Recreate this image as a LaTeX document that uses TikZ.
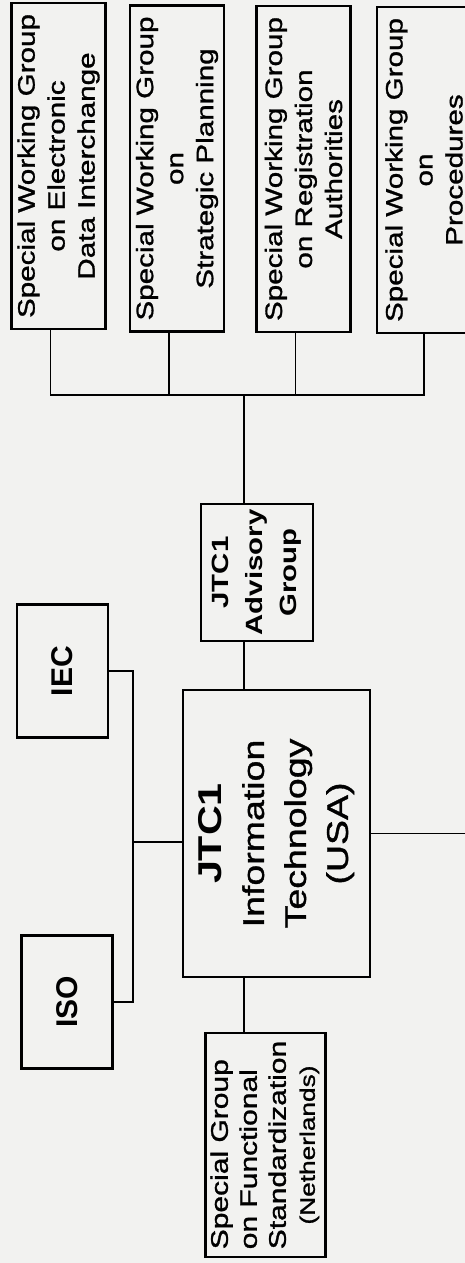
\documentclass[tikz,border=0pt]{standalone}
\usepackage{fontspec}
\setmainfont{Liberation Sans}
\newfontfamily\widefont[FakeStretch=1.25, FakeBold=1.2]{Liberation Sans}
\newfontfamily\wideboldfont[FakeStretch=1.25]{Liberation Sans Bold}
\usetikzlibrary{calc}
\definecolor{paper}{RGB}{242,242,240}

\begin{document}
\begin{tikzpicture}[
    x=1pt, y=-1pt,
    swgbox/.style={
        rectangle, draw=black, line width=2.4pt, rotate=90,
        minimum width=326pt, minimum height=94pt, inner sep=2pt,
        align=center, font=\widefont\fontsize{23.7}{30}\selectfont
    },
    orgbox/.style={
        rectangle, draw=black, line width=2.4pt, rotate=90,
        minimum width=133pt, minimum height=91pt, inner sep=2pt,
        font=\bfseries\fontsize{30}{36}\selectfont
    },
    mainbox/.style={
        rectangle, draw=black, line width=2.6pt, rotate=90,
        minimum width=287pt, minimum height=187pt, inner sep=2pt,
        align=center, font=\widefont\fontsize{30}{42}\selectfont
    },
    advbox/.style={
        rectangle, draw=black, line width=2.4pt, rotate=90,
        minimum width=137pt, minimum height=112pt, inner sep=2pt,
        align=center, font=\wideboldfont\fontsize{23.5}{34}\selectfont
    },
    sgbox/.style={
        rectangle, draw=black, line width=2.4pt, rotate=90,
        minimum width=224pt, minimum height=113pt, inner sep=2pt,
        font=\widefont\fontsize{24}{29}\selectfont
    },
    link/.style={line width=1.8pt},
]

\useasboundingbox (0,0) rectangle (465,1263);
\fill[paper] (0,0) rectangle (465,1263);
\clip (0,0) rectangle (465,1263);

% Special working groups (top row)
\node[swgbox] (edi) at (58.5,166) {Special Working Group\\on Electronic\\Data Interchange};
\node[swgbox] (sp) at (177,168.5) {Special Working Group\\on\\Strategic Planning};
\node[swgbox] (ra) at (303.5,169) {Special Working Group\\on Registration\\Authorities};
\node[swgbox] (proc) at (424,170) {Special Working Group\\on\\Procedures};

% Advisory group and JTC1
\node[advbox] (adv) at (257,572.5) {JTC1\\Advisory\\Group};
\node[mainbox] (jtc) at (276.5,833.5) {{\wideboldfont\fontsize{33}{40}\selectfont JTC1}\\Information\\Technology\\(USA)};

% Parent bodies
\node[orgbox] (iec) at (62.5,671) {IEC};
\node[orgbox] (iso) at (67,1002) {ISO};

% Special group below JTC1
\node[sgbox] (sgfs) at (265.5,1145) {\begin{tabular}{@{}l@{}}Special Group\\on Functional\\Standardization\\\multicolumn{1}{@{}c@{}}{\fontsize{21}{24}\selectfont (Netherlands)}\end{tabular}};

% Junction points
\coordinate (bus) at (244,395);
\coordinate (junc) at (133,842);
\coordinate (offright) at (490,833.5);

% Bus to the working groups
\draw[link] ([xshift=-8pt]edi.west) |- (proc.west |- bus) -- (proc.west);
\foreach \n in {sp,ra}
    \draw[link] ([xshift=-8pt]\n.west) -- ([xshift=-8pt]\n.west |- bus);

% Spine through advisory group, JTC1 and special group
\draw[link] (bus) -- (bus |- adv.east);
\draw[link] (bus |- adv.west) -- (bus |- jtc.east);
\draw[link] (bus |- jtc.west) -- (bus |- sgfs.east);

% ISO and IEC into JTC1
\draw[link] (iec.south) -| (junc) |- (iso.south);
\draw[link] (junc) -- (junc -| jtc.north);

% Line leaving to the right
\draw[link] (jtc.south) -- (offright);

\end{tikzpicture}
\end{document}
